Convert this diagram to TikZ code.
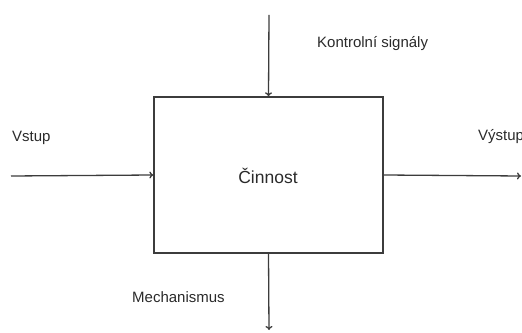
\documentclass[tikz,border=0pt]{standalone}
\usepackage{fontspec}
\setmainfont{Liberation Sans}
\usetikzlibrary{arrows.meta}
\definecolor{linegray}{HTML}{3C3C3C}
\definecolor{textgray}{HTML}{2A2A2A}
\tikzset{
  flow/.style={draw=linegray, line width=1.3pt, -{To[length=4pt,width=7pt]}},
  activity/.style={draw=linegray, line width=1.3pt, rectangle,
    minimum width=229pt, minimum height=156pt, inner sep=0pt},
  label/.style={text=textgray, inner sep=0pt, font=\fontsize{15}{18}\selectfont},
  title/.style={text=textgray, inner sep=0pt, font=\fontsize{17.5}{21}\selectfont}
}
\begin{document}
\begin{tikzpicture}[x=1pt, y=1pt]
  \useasboundingbox (0,0) rectangle (522,332);
  % the activity box
  \node[activity] (box) at (268.5,157) {};
  \node[title, anchor=base] (name) at (268,148.7) {Činnost};
  % free ends of the four connectors
  \coordinate (inp) at (11,156);
  \coordinate (ctl) at (269,317);
  \coordinate (out) at (521,156);
  \coordinate (mech) at (269,2);
  % connectors
  \draw[flow] (inp) -- (box.west);
  \draw[flow] (ctl) -- (box.north);
  \draw[flow] (box.east) -- (out);
  \draw[flow] (box.south) -- (mech);
  % labels
  \node[label, anchor=base west] (lin) at (12,190.5) {Vstup};
  \node[label, anchor=base west] (lctl) at (317,284.5) {Kontrolní signály};
  \node[label, anchor=base west] (lout) at (478,191.5) {Výstup};
  \node[label, anchor=base west] (lmech) at (132,29.5) {Mechanismus};
\end{tikzpicture}
\end{document}
